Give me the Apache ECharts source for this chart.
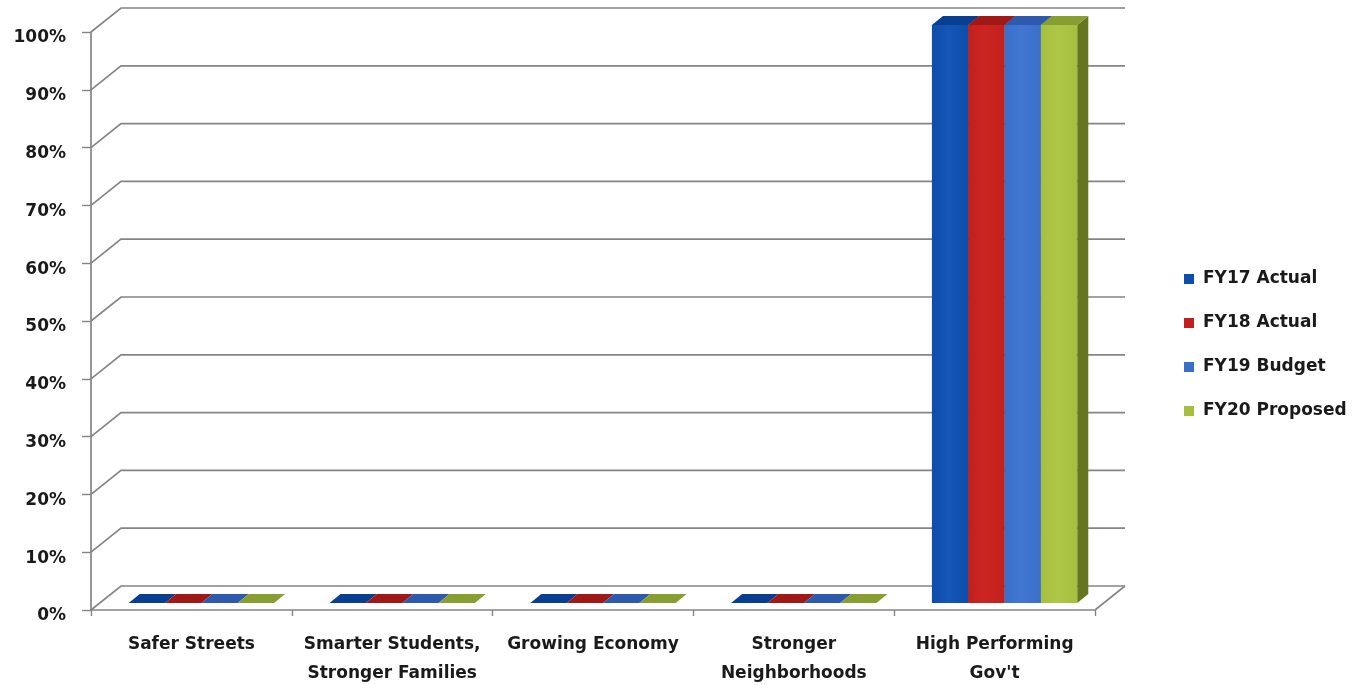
<!DOCTYPE html>
<html>
<head>
<meta charset="utf-8">
<title>Share of budget by priority outcome</title>
<script src="https://cdn.jsdelivr.net/npm/echarts@6/dist/echarts.min.js"></script>
<style>
  html, body { margin: 0; padding: 0; background: #ffffff; }
  #chart { width: 1352px; height: 685px; }
</style>
</head>
<body>
<div id="chart"></div>
<script>
// Priority outcomes along the floor of the chart
const categories = [
  'Safer Streets',
  'Smarter Students,\nStronger Families',
  'Growing Economy',
  'Stronger\nNeighborhoods',
  'High Performing\nGov\'t'
];

// Share of each year's budget per outcome (percent)
const fy17Actual   = [0, 0, 0, 0, 100];
const fy18Actual   = [0, 0, 0, 0, 100];
const fy19Budget   = [0, 0, 0, 0, 100];
const fy20Proposed = [0, 0, 0, 0, 100];

const seriesNames = ['FY17 Actual', 'FY18 Actual', 'FY19 Budget', 'FY20 Proposed'];

// Value-axis ticks, used for the back-wall gridlines
const yTicks = [0, 10, 20, 30, 40, 50, 60, 70, 80, 90, 100];

// Faux-3D geometry (pixels)
const WALL_DX = 30, WALL_DY = -24;   // depth of the back wall
const BAR_DX = 10, BAR_DY = -7;      // bar front plane offset from the axis plane
const DEPTH_DX = 11, DEPTH_DY = -9;  // bar depth
const BAR_FRAC = 0.181;              // bar width as a share of the category band

const palette = [
  { front: '#0c4eab', light: '#1656b6', top: '#093f92', side: '#07316f' },
  { front: '#c21f1c', light: '#cc2622', top: '#a01917', side: '#7c1410' },
  { front: '#3a6ecb', light: '#4277d1', top: '#2d5aac', side: '#22478a' },
  { front: '#a6bf3e', light: '#afc746', top: '#889e30', side: '#66761e' }
];

const lineColor = '#858585';
const textColor = '#1a1a1a';
const fontFamily = '"DejaVu Sans", sans-serif';

function wallRender(params, api) {
  const cs = params.coordSys;
  const x0 = cs.x, x1 = cs.x + cs.width;
  const v = api.value(1);
  const y = api.coord([0, v])[1];
  const style = { stroke: lineColor, lineWidth: 1.7, fill: null };
  if (v === 0) {
    // floor: back edge, left and right depth edges
    return {
      type: 'group',
      children: [
        { type: 'polyline', shape: { points: [[x0, y], [x0 + WALL_DX, y + WALL_DY], [x1 + WALL_DX, y + WALL_DY]] }, style },
        { type: 'polyline', shape: { points: [[x1, y], [x1 + WALL_DX, y + WALL_DY]] }, style }
      ]
    };
  }
  return {
    type: 'polyline',
    shape: { points: [[x0, y], [x0 + WALL_DX, y + WALL_DY], [x1 + WALL_DX, y + WALL_DY]] },
    style
  };
}

function makeBarRender(sIdx) {
  const col = palette[sIdx];
  return function (params, api) {
    const band = api.size([1, 0])[0];
    const base = api.coord([api.value(0), 0]);
    const tip = api.coord([api.value(0), api.value(1)]);
    const bw = band * BAR_FRAC;
    const xl = base[0] - 2 * bw + BAR_DX + sIdx * bw;
    const xr = xl + bw;
    const yb = base[1] + BAR_DY;
    const yt = tip[1] + BAR_DY;
    const children = [];
    if (yb - yt > 0.5) {
      children.push({
        type: 'rect',
        shape: { x: xl, y: yt, width: bw, height: yb - yt },
        style: {
          fill: {
            type: 'linear', x: 0, y: 0, x2: 1, y2: 0,
            colorStops: [
              { offset: 0, color: col.front },
              { offset: 0.45, color: col.light },
              { offset: 1, color: col.front }
            ]
          }
        }
      });
      children.push({
        type: 'polygon',
        shape: { points: [[xr, yt], [xr + DEPTH_DX, yt + DEPTH_DY], [xr + DEPTH_DX, yb + DEPTH_DY], [xr, yb]] },
        style: { fill: col.side }
      });
    }
    children.push({
      type: 'polygon',
      shape: { points: [[xl, yt], [xr, yt], [xr + DEPTH_DX, yt + DEPTH_DY], [xl + DEPTH_DX, yt + DEPTH_DY]] },
      style: { fill: col.top }
    });
    return { type: 'group', children };
  };
}

const seriesData = [fy17Actual, fy18Actual, fy19Budget, fy20Proposed];

const chart = echarts.init(document.getElementById('chart'), null, { renderer: 'canvas' });

chart.setOption({
  backgroundColor: '#ffffff',
  animation: false,
  textStyle: { fontFamily },
  grid: { left: 91, right: 257, top: 32, bottom: 75, containLabel: false, outerBoundsMode: 'none' },
  legend: {
    orient: 'vertical',
    left: 1179,
    top: 264,
    itemWidth: 10,
    itemHeight: 10,
    itemGap: 24,
    icon: 'rect',
    data: seriesNames,
    textStyle: { fontSize: 17, fontWeight: 'bold', color: textColor, lineHeight: 20, fontFamily, padding: [0, 0, 0, 4] }
  },
  xAxis: {
    type: 'category',
    data: categories,
    axisLine: { show: true, lineStyle: { color: lineColor, width: 1.7 } },
    axisTick: { show: true, length: 6, lineStyle: { color: lineColor, width: 1.4 } },
    axisLabel: {
      interval: 0,
      margin: 20,
      fontSize: 17,
      fontWeight: 'bold',
      lineHeight: 29,
      color: textColor,
      fontFamily
    },
    splitLine: { show: false }
  },
  yAxis: {
    type: 'value',
    min: 0,
    max: 100,
    interval: 10,
    axisLine: { show: true, lineStyle: { color: lineColor, width: 1.7 } },
    axisTick: { show: true, length: 9, lineStyle: { color: lineColor, width: 1.4 } },
    axisLabel: {
      formatter: '{value}%',
      margin: 25,
      fontSize: 17,
      fontWeight: 'bold',
      color: textColor,
      fontFamily,
      verticalAlign: 'top',
      lineHeight: 12
    },
    splitLine: { show: false }
  },
  series: [
    {
      type: 'custom',
      name: 'wall',
      silent: true,
      clip: false,
      z: 1,
      data: yTicks.map(v => [0, v]),
      renderItem: wallRender
    }
  ].concat(seriesNames.map((name, i) => ({
    type: 'custom',
    name,
    silent: true,
    clip: false,
    z: 2 + i,
    itemStyle: { color: palette[i].front },
    data: seriesData[i].map((v, k) => [k, v]),
    encode: { x: 0, y: 1 },
    renderItem: makeBarRender(i)
  })))
});
</script>
</body>
</html>
